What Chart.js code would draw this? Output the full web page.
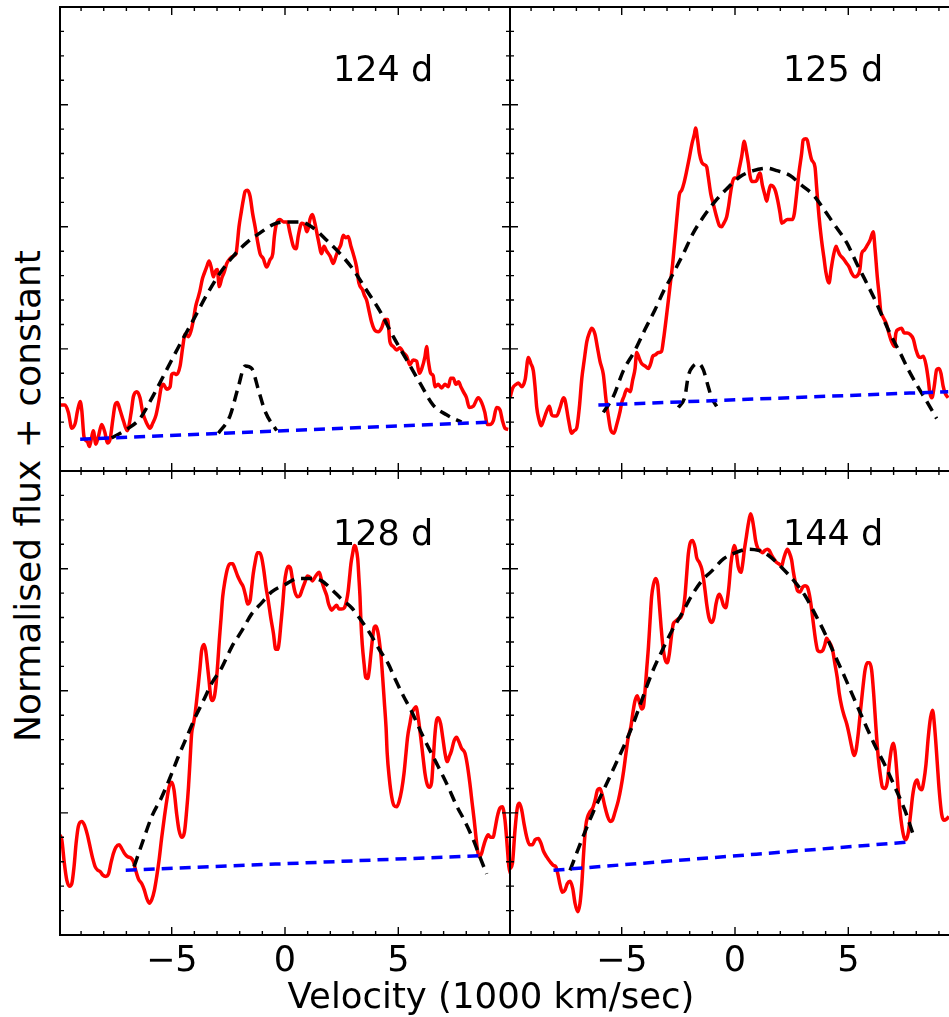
<!DOCTYPE html>
<html>
<head>
<meta charset="utf-8">
<script src="https://cdn.jsdelivr.net/npm/chart.js@4.4.1/dist/chart.umd.min.js"></script>
<style>
  html, body { margin: 0; padding: 0; background: #fff; overflow: hidden; }
  body { width: 949px; height: 1017px; position: relative; }
  canvas { position: absolute; display: block; }
  .axtitle { position: absolute; font-family: "DejaVu Sans"; color: #000; white-space: nowrap; }
  #xtitle { left: 491px; top: 978px; font-size: 35.5px; line-height: 35.5px; transform: translateX(-50%); }
  #ytitle { left: 27.5px; top: 496px; font-size: 36px; line-height: 36px; transform: translate(-50%, -50%) rotate(-90deg); }
</style>
</head>
<body>
<canvas id="c124" width="470" height="481" style="left:50px;top:0px"></canvas>
<canvas id="c125" width="470" height="481" style="left:500px;top:0px"></canvas>
<canvas id="c128" width="470" height="556" style="left:50px;top:461px"></canvas>
<canvas id="c144" width="470" height="556" style="left:500px;top:461px"></canvas>
<div id="xtitle" class="axtitle">Velocity (1000 km/sec)</div>
<div id="ytitle" class="axtitle">Normalised flux + constant</div>
<script>
// ////////////// axis ranges and ticks
const xMin = -9.93, xMax = 9.93;
const yMin = 0, yMax = 3.8;
const xMajorTicks = [-5, 0, 5];
const xTickLabels = ['\u22125', '0', '5'];
const xMinorTicks = [-9, -8, -7, -6, -5, -4, -3, -2, -1, 0, 1, 2, 3, 4, 5, 6, 7, 8, 9];
const yMajorTicks = [1, 2, 3];
const yMinorTicks = [0.2, 0.4, 0.6, 0.8, 1, 1.2, 1.4, 1.6, 1.8, 2, 2.2, 2.4, 2.6, 2.8, 3, 3.2, 3.4, 3.6];
const panelLabels = ['124 d', '125 d', '128 d', '144 d'];
const labelAt = [2.12, 3.19];

// ////////////// 124 d
const vel124 = [-9.93,-9.71,-9.56,-9.41,-9.26,-9.16,-9.04,-8.97,-8.87,-8.72,-8.63,-8.53,-8.46,-8.35,-8.24,-8.09,-7.94,-7.84,-7.72,-7.60,-7.50,-7.40,-7.28,-7.13,-6.96,-6.79,-6.69,-6.54,-6.40,-6.28,-6.10,-5.96,-5.84,-5.69,-5.56,-5.47,-5.37,-5.22,-5.07,-5.00,-4.90,-4.78,-4.63,-4.51,-4.41,-4.26,-4.16,-4.04,-3.94,-3.82,-3.75,-3.65,-3.56,-3.46,-3.35,-3.26,-3.16,-3.09,-2.99,-2.90,-2.79,-2.68,-2.57,-2.43,-2.28,-2.16,-2.10,-2.03,-1.94,-1.84,-1.76,-1.66,-1.54,-1.43,-1.32,-1.22,-1.10,-0.96,-0.81,-0.66,-0.54,-0.47,-0.37,-0.22,-0.07,0.10,0.22,0.37,0.49,0.59,0.74,0.88,0.96,1.03,1.10,1.21,1.32,1.47,1.62,1.72,1.84,1.99,2.13,2.25,2.35,2.46,2.57,2.68,2.79,2.91,3.01,3.16,3.26,3.43,3.50,3.60,3.71,3.82,3.94,4.12,4.26,4.41,4.53,4.63,4.78,4.93,5.07,5.22,5.37,5.51,5.66,5.81,5.93,6.04,6.18,6.25,6.32,6.43,6.54,6.62,6.76,6.91,7.06,7.21,7.31,7.43,7.54,7.66,7.76,7.87,8.01,8.13,8.31,8.53,8.68,8.82,8.93,9.04,9.19,9.34,9.49,9.60,9.71,9.85];
const flux124 = [0.54,0.54,0.48,0.35,0.39,0.49,0.57,0.50,0.28,0.24,0.20,0.28,0.33,0.22,0.28,0.38,0.31,0.23,0.26,0.42,0.54,0.56,0.50,0.41,0.33,0.48,0.61,0.65,0.60,0.48,0.39,0.35,0.39,0.46,0.58,0.68,0.71,0.67,0.69,0.79,0.80,0.79,0.86,1.02,1.12,1.10,1.14,1.24,1.35,1.43,1.48,1.57,1.62,1.67,1.72,1.67,1.59,1.63,1.65,1.51,1.58,1.63,1.70,1.74,1.76,1.78,1.87,2.00,2.11,2.22,2.29,2.30,2.25,2.11,2.00,1.89,1.78,1.74,1.67,1.73,1.78,1.92,2.03,2.06,2.04,2.04,1.95,1.84,1.82,1.93,2.03,2.01,1.96,1.99,2.06,2.10,2.03,1.89,1.78,1.84,1.80,1.76,1.70,1.76,1.81,1.85,1.93,1.91,1.92,1.84,1.78,1.67,1.54,1.48,1.44,1.40,1.31,1.22,1.16,1.14,1.17,1.24,1.24,1.06,1.02,0.99,1.01,0.97,0.94,0.87,0.91,0.90,0.80,0.84,0.94,1.02,0.91,0.80,0.78,0.69,0.71,0.68,0.71,0.69,0.76,0.76,0.71,0.73,0.69,0.65,0.60,0.52,0.53,0.60,0.56,0.48,0.38,0.38,0.41,0.52,0.50,0.41,0.35,0.34];
const fitVel124 = [-7.65,-6.99,-6.40,-5.81,-5.22,-4.63,-4.04,-3.46,-2.87,-2.28,-1.69,-1.10,-0.51,0.00,0.66,1.25,1.84,2.43,3.01,3.60,4.19,4.78,5.37,5.96,6.54,7.13,7.79];
const fitFlux124 = [0.27,0.34,0.43,0.62,0.83,1.04,1.24,1.44,1.62,1.76,1.87,1.95,2.02,2.04,2.04,1.99,1.89,1.78,1.65,1.48,1.31,1.10,0.91,0.72,0.54,0.46,0.40];
const narVel124 = [-2.94,-2.43,-2.06,-1.76,-1.47,-1.18,-0.88,-0.37];
const narFlux124 = [0.31,0.45,0.69,0.86,0.84,0.67,0.49,0.33];
const baseVel124 = [-9.04, 9.04];
const baseFlux124 = [0.26, 0.40];

// ////////////// 125 d
const vel125 = [-9.93,-9.81,-9.66,-9.56,-9.41,-9.26,-9.12,-9.01,-8.90,-8.82,-8.75,-8.65,-8.56,-8.46,-8.31,-8.19,-8.09,-7.99,-7.87,-7.72,-7.57,-7.50,-7.35,-7.21,-7.10,-6.99,-6.87,-6.76,-6.66,-6.54,-6.43,-6.32,-6.18,-6.07,-5.96,-5.81,-5.69,-5.59,-5.49,-5.34,-5.22,-5.07,-5.00,-4.90,-4.78,-4.63,-4.51,-4.41,-4.34,-4.22,-4.12,-3.97,-3.82,-3.72,-3.63,-3.53,-3.38,-3.24,-3.16,-3.01,-2.87,-2.75,-2.68,-2.60,-2.53,-2.46,-2.35,-2.25,-2.13,-2.01,-1.90,-1.79,-1.74,-1.65,-1.57,-1.47,-1.37,-1.25,-1.18,-1.07,-0.96,-0.81,-0.69,-0.59,-0.49,-0.37,-0.29,-0.22,-0.12,-0.03,0.10,0.19,0.29,0.41,0.49,0.59,0.66,0.74,0.84,0.96,1.03,1.10,1.21,1.32,1.40,1.47,1.57,1.69,1.79,1.88,1.99,2.06,2.16,2.31,2.43,2.54,2.62,2.72,2.82,2.94,3.01,3.12,3.19,3.28,3.38,3.53,3.60,3.71,3.82,3.93,4.01,4.15,4.24,4.34,4.46,4.53,4.63,4.78,4.93,5.04,5.15,5.29,5.44,5.51,5.59,5.71,5.81,5.96,6.10,6.18,6.28,6.37,6.43,6.51,6.59,6.69,6.79,6.91,7.03,7.10,7.21,7.35,7.47,7.60,7.72,7.87,7.99,8.09,8.19,8.31,8.43,8.53,8.60,8.69,8.79,8.90,9.00,9.09,9.19,9.29,9.41];
const flux125 = [0.60,0.68,0.71,0.72,0.69,0.75,0.93,0.88,0.82,0.68,0.52,0.42,0.37,0.41,0.49,0.53,0.46,0.45,0.45,0.52,0.60,0.58,0.42,0.31,0.33,0.35,0.52,0.76,0.90,1.06,1.13,1.17,1.12,1.01,0.90,0.79,0.58,0.45,0.34,0.31,0.38,0.49,0.56,0.61,0.67,0.65,0.75,0.84,0.97,0.92,0.88,0.86,0.84,0.88,0.94,0.95,0.97,0.98,1.07,1.29,1.51,1.70,1.84,2.00,2.14,2.26,2.30,2.36,2.46,2.57,2.68,2.76,2.81,2.71,2.60,2.53,2.51,2.49,2.41,2.27,2.19,2.08,2.01,2.00,2.03,2.08,2.16,2.25,2.36,2.40,2.40,2.48,2.57,2.70,2.63,2.52,2.42,2.37,2.37,2.38,2.42,2.44,2.34,2.26,2.21,2.27,2.34,2.33,2.29,2.22,2.11,2.03,2.04,2.06,2.06,2.06,2.11,2.27,2.44,2.60,2.71,2.72,2.71,2.63,2.55,2.49,2.33,2.08,1.89,1.74,1.63,1.54,1.65,1.76,1.84,1.81,1.77,1.74,1.70,1.67,1.62,1.59,1.61,1.65,1.78,1.81,1.84,1.89,1.96,1.82,1.59,1.43,1.31,1.27,1.24,1.20,1.13,1.06,1.02,1.13,1.16,1.17,1.13,1.13,1.12,1.08,0.99,0.94,0.93,0.94,0.87,0.75,0.64,0.60,0.69,0.83,0.84,0.80,0.69,0.63,0.60];
const fitVel125 = [-5.81,-5.37,-4.93,-4.41,-3.97,-3.53,-3.16,-2.72,-2.28,-1.84,-1.40,-0.96,-0.37,0.22,0.81,1.40,1.84,2.43,2.94,3.46,3.90,4.34,4.93,5.37,5.81,6.18,6.54,6.91,7.28,7.65,8.01,8.46,8.90];
const fitFlux125 = [0.48,0.61,0.82,0.99,1.16,1.32,1.47,1.62,1.78,1.95,2.08,2.19,2.31,2.41,2.46,2.48,2.46,2.42,2.34,2.26,2.15,2.03,1.87,1.70,1.54,1.40,1.25,1.10,0.97,0.83,0.71,0.57,0.43];
const narVel125 = [-2.50,-2.21,-2.06,-1.84,-1.62,-1.40,-1.18,-1.03,-0.81];
const narFlux125 = [0.52,0.61,0.78,0.86,0.88,0.83,0.69,0.60,0.53];
const baseVel125 = [-6.03, 9.41];
const baseFlux125 = [0.54, 0.65];

// ////////////// 128 d
const vel128 = [-9.93,-9.85,-9.74,-9.63,-9.51,-9.41,-9.31,-9.22,-9.12,-8.97,-8.85,-8.72,-8.60,-8.49,-8.38,-8.26,-8.16,-8.04,-7.91,-7.79,-7.68,-7.57,-7.46,-7.32,-7.21,-7.09,-6.94,-6.79,-6.69,-6.59,-6.47,-6.32,-6.21,-6.10,-5.99,-5.88,-5.76,-5.66,-5.56,-5.44,-5.32,-5.22,-5.12,-5.00,-4.90,-4.78,-4.68,-4.56,-4.44,-4.34,-4.26,-4.19,-4.12,-4.04,-3.97,-3.90,-3.82,-3.75,-3.68,-3.57,-3.50,-3.43,-3.35,-3.28,-3.21,-3.12,-3.04,-2.97,-2.90,-2.82,-2.75,-2.65,-2.54,-2.43,-2.31,-2.21,-2.09,-1.96,-1.84,-1.74,-1.65,-1.54,-1.47,-1.40,-1.32,-1.22,-1.12,-1.03,-0.93,-0.84,-0.74,-0.63,-0.51,-0.41,-0.32,-0.25,-0.18,-0.10,-0.03,0.06,0.15,0.25,0.34,0.44,0.56,0.66,0.76,0.88,0.99,1.10,1.21,1.29,1.43,1.51,1.62,1.74,1.84,1.91,1.99,2.06,2.16,2.28,2.38,2.50,2.62,2.72,2.79,2.85,2.91,2.99,3.06,3.13,3.21,3.26,3.31,3.35,3.41,3.49,3.56,3.65,3.72,3.79,3.87,3.94,4.01,4.09,4.16,4.24,4.31,4.38,4.46,4.51,4.60,4.71,4.81,4.93,5.03,5.15,5.25,5.34,5.41,5.51,5.59,5.69,5.78,5.88,5.99,6.09,6.18,6.28,6.37,6.47,6.54,6.62,6.69,6.76,6.87,6.96,7.06,7.16,7.25,7.35,7.46,7.57,7.68,7.79,7.94,8.04,8.16,8.26,8.35,8.43,8.50,8.57,8.68,8.75,8.85,8.97,9.07,9.19,9.26,9.37,9.49,9.59,9.71,9.81,9.88,9.96];
const flux128 = [0.82,0.78,0.59,0.45,0.40,0.42,0.56,0.75,0.89,0.93,0.90,0.82,0.72,0.63,0.56,0.53,0.52,0.49,0.48,0.50,0.59,0.67,0.72,0.74,0.71,0.67,0.64,0.63,0.60,0.53,0.46,0.42,0.37,0.30,0.26,0.29,0.37,0.48,0.61,0.80,0.97,1.10,1.21,1.25,1.19,0.99,0.86,0.80,0.84,1.02,1.21,1.43,1.65,1.73,1.81,1.92,2.06,2.19,2.33,2.38,2.33,2.22,2.08,1.95,1.92,1.95,2.06,2.22,2.41,2.60,2.77,2.90,3.00,3.04,3.04,3.00,2.94,2.89,2.85,2.78,2.71,2.74,2.85,2.96,3.05,3.13,3.13,3.09,2.98,2.85,2.74,2.60,2.47,2.34,2.34,2.41,2.55,2.71,2.87,2.98,3.02,3.00,2.90,2.81,2.77,2.78,2.83,2.89,2.94,2.93,2.90,2.92,2.96,2.97,2.90,2.83,2.78,2.72,2.68,2.66,2.68,2.70,2.67,2.67,2.68,2.74,2.82,2.93,3.04,3.13,3.19,3.17,3.08,2.93,2.77,2.57,2.38,2.22,2.11,2.10,2.17,2.30,2.44,2.52,2.53,2.49,2.41,2.28,2.11,1.92,1.70,1.49,1.29,1.13,1.06,1.05,1.09,1.19,1.32,1.49,1.62,1.73,1.81,1.85,1.87,1.78,1.62,1.46,1.32,1.23,1.21,1.25,1.43,1.65,1.76,1.78,1.73,1.62,1.49,1.42,1.46,1.51,1.59,1.62,1.58,1.53,1.49,1.40,1.24,1.08,0.94,0.80,0.69,0.64,0.67,0.72,0.78,0.82,0.80,0.80,0.86,0.97,1.04,1.05,0.94,0.72,0.56,0.50];
const fitVel128 = [-6.66,-6.25,-5.88,-5.44,-5.07,-4.71,-4.34,-3.97,-3.60,-3.24,-2.79,-2.35,-1.91,-1.47,-1.03,-0.59,0.00,0.59,1.18,1.62,2.06,2.50,2.94,3.31,3.75,4.19,4.56,4.85,5.22,5.59,6.03,6.40,6.76,7.21,7.57,7.94,8.31,8.60,8.90];
const fitFlux128 = [0.56,0.78,0.97,1.13,1.29,1.46,1.62,1.78,1.92,2.06,2.19,2.36,2.49,2.63,2.72,2.81,2.87,2.92,2.92,2.90,2.83,2.75,2.68,2.59,2.47,2.33,2.22,2.10,1.96,1.83,1.65,1.51,1.38,1.21,1.06,0.93,0.78,0.64,0.50];
const baseVel128 = [-7.03, 8.60];
const baseFlux128 = [0.53, 0.65];

// ////////////// 144 d
const vel144 = [-9.93,-9.82,-9.71,-9.60,-9.51,-9.41,-9.31,-9.19,-9.07,-8.94,-8.82,-8.68,-8.56,-8.46,-8.31,-8.16,-8.01,-7.91,-7.82,-7.72,-7.62,-7.50,-7.40,-7.28,-7.16,-7.06,-6.94,-6.84,-6.76,-6.68,-6.59,-6.50,-6.40,-6.28,-6.18,-6.06,-5.96,-5.85,-5.74,-5.62,-5.51,-5.41,-5.29,-5.15,-5.03,-4.91,-4.81,-4.71,-4.60,-4.49,-4.41,-4.32,-4.24,-4.12,-4.04,-3.97,-3.90,-3.82,-3.75,-3.68,-3.60,-3.50,-3.41,-3.34,-3.26,-3.18,-3.09,-2.99,-2.90,-2.79,-2.72,-2.62,-2.50,-2.40,-2.28,-2.21,-2.13,-2.06,-1.96,-1.87,-1.76,-1.69,-1.57,-1.47,-1.40,-1.32,-1.25,-1.15,-1.03,-0.93,-0.84,-0.76,-0.69,-0.59,-0.51,-0.41,-0.32,-0.26,-0.18,-0.09,-0.03,0.04,0.15,0.26,0.34,0.41,0.50,0.59,0.69,0.76,0.84,0.91,1.00,1.10,1.22,1.32,1.43,1.51,1.62,1.72,1.84,1.94,2.06,2.13,2.21,2.31,2.40,2.50,2.57,2.65,2.76,2.87,2.99,3.09,3.19,3.28,3.35,3.46,3.56,3.65,3.76,3.87,3.97,4.04,4.12,4.22,4.31,4.41,4.51,4.60,4.71,4.81,4.93,5.03,5.15,5.25,5.34,5.44,5.54,5.63,5.74,5.84,5.93,6.03,6.13,6.22,6.32,6.43,6.51,6.62,6.72,6.81,6.91,6.99,7.06,7.16,7.25,7.35,7.46,7.54,7.65,7.75,7.84,7.94,8.04,8.13,8.24,8.34,8.43,8.53,8.63,8.72,8.82,8.93,9.01,9.12,9.22,9.34,9.44];
const flux144 = [0.54,0.59,0.86,1.05,1.08,1.02,0.91,0.80,0.74,0.74,0.78,0.79,0.75,0.69,0.64,0.60,0.57,0.56,0.50,0.41,0.35,0.37,0.42,0.44,0.38,0.26,0.19,0.26,0.42,0.67,0.89,0.97,1.01,1.04,1.10,1.19,1.20,1.14,1.05,0.97,0.93,0.94,1.01,1.10,1.21,1.35,1.49,1.62,1.70,1.84,1.92,1.96,1.92,1.85,1.87,2.00,2.17,2.36,2.57,2.77,2.87,2.92,2.87,2.71,2.52,2.36,2.26,2.23,2.30,2.47,2.55,2.57,2.59,2.60,2.67,2.77,2.96,3.12,3.22,3.23,3.17,3.09,3.05,3.00,2.93,2.82,2.71,2.60,2.56,2.60,2.71,2.77,2.79,2.75,2.70,2.68,2.77,2.87,3.04,3.15,3.19,3.15,3.01,2.97,3.04,3.15,3.26,3.37,3.45,3.41,3.32,3.23,3.17,3.15,3.13,3.15,3.16,3.15,3.11,3.08,3.05,3.04,3.02,3.07,3.12,3.16,3.13,3.07,2.98,2.90,2.82,2.81,2.85,2.86,2.85,2.79,2.71,2.55,2.41,2.33,2.32,2.33,2.38,2.43,2.41,2.38,2.33,2.22,2.11,1.98,1.87,1.80,1.73,1.65,1.54,1.47,1.51,1.65,1.84,2.00,2.17,2.23,2.23,2.17,1.95,1.70,1.46,1.29,1.21,1.20,1.25,1.40,1.53,1.57,1.51,1.29,1.08,0.91,0.80,0.78,0.84,0.99,1.14,1.24,1.27,1.21,1.19,1.27,1.40,1.62,1.78,1.84,1.68,1.40,1.19,0.99,0.94,0.95,0.97];
const fitVel144 = [-7.28,-6.76,-6.25,-5.74,-5.29,-4.85,-4.49,-4.12,-3.68,-3.24,-2.79,-2.35,-1.91,-1.47,-1.03,-0.51,0.00,0.59,1.03,1.47,2.06,2.65,3.09,3.53,3.97,4.41,4.85,5.29,5.74,6.18,6.62,7.06,7.50,7.87];
const fitFlux144 = [0.53,0.78,1.01,1.21,1.39,1.57,1.73,1.92,2.14,2.32,2.49,2.63,2.78,2.90,2.98,3.08,3.13,3.16,3.15,3.11,3.01,2.89,2.78,2.63,2.47,2.29,2.11,1.92,1.73,1.55,1.39,1.21,1.02,0.82];
const baseVel144 = [-8.01, 7.57];
const baseFlux144 = [0.53, 0.76];

// ////////////// helpers
const pts = function(xs, ys){
    let out = [];
    for(let i = 0; i < Math.min(xs.length, ys.length); i++){
        out.push({x: xs[i], y: ys[i]});
    }
    return out;
}

const lineSet = function(xs, ys, color, dashed){
    return {
        data: pts(xs, ys),
        showLine: true,
        borderColor: color,
        borderWidth: 3.5,
        borderDash: dashed ? [11, 7] : [],
        borderCapStyle: 'butt',
        borderJoinStyle: 'round',
        pointRadius: 0,
        cubicInterpolationMode: 'monotone',
        clip: 0
    };
}

// ////////////// frame, inward ticks and texts
const frameTicks = {
    id: 'frameTicks',
    afterDatasetsDraw(chart, args, opts){
        const ctx = chart.ctx;
        const a = chart.chartArea;
        const xs = chart.scales.x;
        const ys = chart.scales.y;
        ctx.save();
        ctx.strokeStyle = '#000';
        ctx.lineWidth = 1.4;
        ctx.beginPath();
        xMinorTicks.forEach(function(v){
            const px = xs.getPixelForValue(v);
            const len = xMajorTicks.includes(v) ? 8 : 4;
            ctx.moveTo(px, a.bottom); ctx.lineTo(px, a.bottom - len);
            ctx.moveTo(px, a.top); ctx.lineTo(px, a.top + len);
        });
        yMinorTicks.forEach(function(v){
            const py = ys.getPixelForValue(v);
            const len = yMajorTicks.includes(v) ? 8 : 4;
            ctx.moveTo(a.left, py); ctx.lineTo(a.left + len, py);
            ctx.moveTo(a.right, py); ctx.lineTo(a.right - len, py);
        });
        ctx.stroke();
        ctx.lineWidth = 2;
        ctx.strokeRect(a.left, a.top, a.right - a.left, a.bottom - a.top);

        ctx.fillStyle = '#000';
        ctx.font = '35px "DejaVu Sans"';
        ctx.textBaseline = 'alphabetic';
        ctx.textAlign = 'left';
        ctx.fillText(opts.label, xs.getPixelForValue(labelAt[0]), ys.getPixelForValue(labelAt[1]));
        if(opts.tickLabels){
            ctx.textAlign = 'center';
            xMajorTicks.forEach(function(v, i){
                ctx.fillText(xTickLabels[i], xs.getPixelForValue(v), a.bottom + 36);
            });
        }
        ctx.restore();
    }
};

const makePanel = function(id, sets, label, bottomRow){
    new Chart(document.getElementById(id), {
        type: 'scatter',
        data: { datasets: sets },
        options: {
            responsive: false,
            animation: false,
            devicePixelRatio: 1,
            events: [],
            layout: {
                autoPadding: false,
                padding: bottomRow ? {left: 10, right: 10, top: 10, bottom: 82} : {left: 10, right: 10, top: 7, bottom: 10}
            },
            plugins: {
                legend: { display: false },
                tooltip: { enabled: false },
                frameTicks: { label: label, tickLabels: bottomRow }
            },
            scales: {
                x: { type: 'linear', min: xMin, max: xMax, display: false },
                y: { type: 'linear', min: yMin, max: yMax, display: false }
            }
        },
        plugins: [frameTicks]
    });
}

// blue first so it is drawn on top, red last so it sits underneath
makePanel('c124', [
    lineSet(baseVel124, baseFlux124, '#0000ff', true),
    lineSet(fitVel124, fitFlux124, '#000000', true),
    lineSet(narVel124, narFlux124, '#000000', true),
    lineSet(vel124, flux124, '#ff0000', false)
], panelLabels[0], false);

makePanel('c125', [
    lineSet(baseVel125, baseFlux125, '#0000ff', true),
    lineSet(fitVel125, fitFlux125, '#000000', true),
    lineSet(narVel125, narFlux125, '#000000', true),
    lineSet(vel125, flux125, '#ff0000', false)
], panelLabels[1], false);

makePanel('c128', [
    lineSet(baseVel128, baseFlux128, '#0000ff', true),
    lineSet(fitVel128, fitFlux128, '#000000', true),
    lineSet(vel128, flux128, '#ff0000', false)
], panelLabels[2], true);

makePanel('c144', [
    lineSet(baseVel144, baseFlux144, '#0000ff', true),
    lineSet(fitVel144, fitFlux144, '#000000', true),
    lineSet(vel144, flux144, '#ff0000', false)
], panelLabels[3], true);
</script>
</body>
</html>
